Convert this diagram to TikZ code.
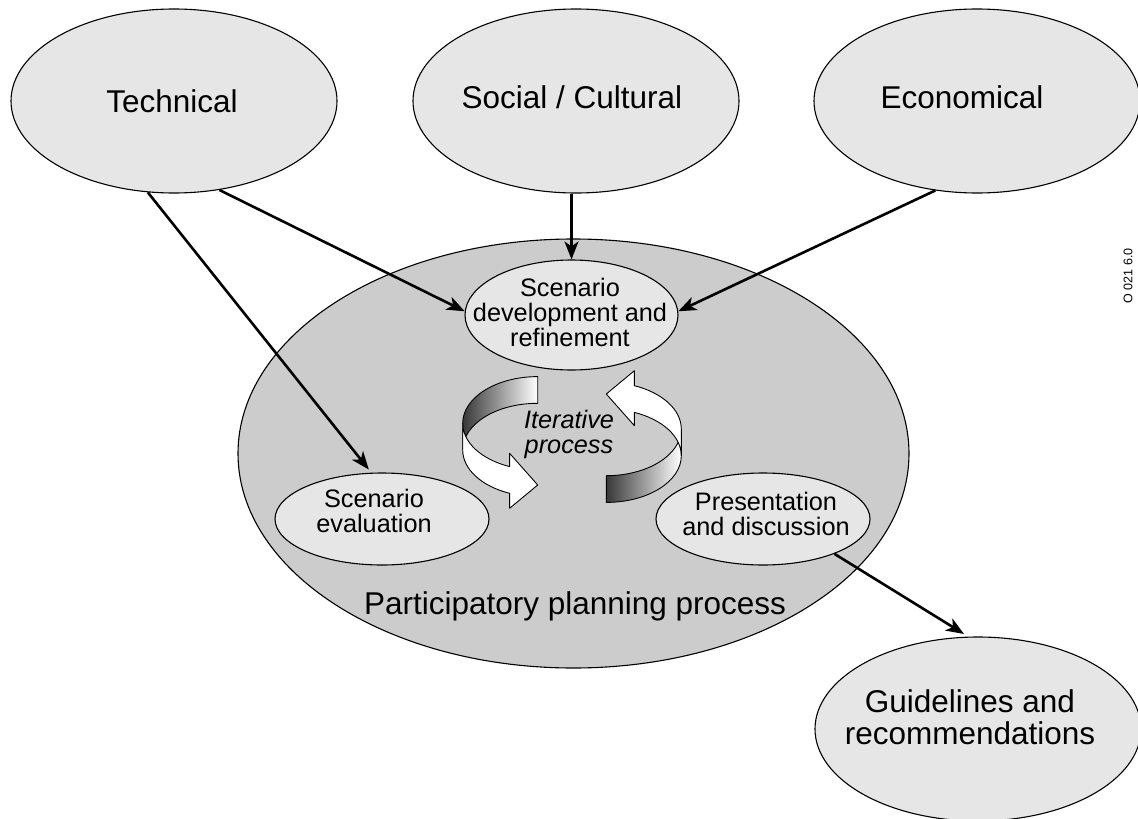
\documentclass[tikz,border=0pt]{standalone}
\usepackage{fontspec}
\setmainfont{Liberation Sans}
\usetikzlibrary{shapes.geometric,arrows.meta}
\definecolor{paleshade}{gray}{0.902}
\definecolor{midshade}{gray}{0.8}

% One curved 3D ribbon arrow: shaded back band, white front band with head
\newcommand\ribbonarrow{%
  \shadedraw[ribbon, left color=black!78, right color=white]
    (537.7,376.6) arc[start angle=90, end angle=180, x radius=75pt, y radius=46.7pt]
    -- (462.7,450) arc[start angle=180, end angle=90, x radius=75pt, y radius=46.7pt]
    -- cycle;
  \filldraw[ribbon, fill=white]
    (462.7,423.3) arc[start angle=180, end angle=248, x radius=75pt, y radius=46.7pt]
    -- (509.6,453.3) -- (537.7,485) -- (509.6,508.3) -- (509.6,493.3)
    arc[start angle=248, end angle=180, x radius=75pt, y radius=46.7pt]
    -- cycle;
}

\begin{document}
\begin{tikzpicture}[x=1pt,y=-1pt,
  oval/.style={ellipse, draw=black, line width=1.1pt, inner sep=0pt},
  topic/.style={oval, fill=paleshade, minimum width=326pt, minimum height=184pt},
  stage/.style={oval, fill=paleshade, minimum width=214pt, minimum height=92pt},
  bigtext/.style={font=\fontsize{31.5}{32}\selectfont, inner sep=0pt, align=center},
  smalltext/.style={font=\fontsize{25.3}{25}\selectfont, inner sep=0pt, align=center},
  flow/.style={line width=2.6pt, -{Stealth[length=18pt,width=14pt,inset=5pt]}},
  ribbon/.style={draw=black, line width=0.9pt, line join=round}
]
\fill[white] (0,0) rectangle (1138,819);
\useasboundingbox (0,0) rectangle (1138,819);

% planning process container
\node[oval, fill=midshade, minimum width=671pt, minimum height=429pt] (ppp) at (573.5,453.5) {};
\node[bigtext, anchor=base] (ppp-t) at (575,614) {Participatory planning process};

% stages of the process
\node[stage, minimum width=213pt, minimum height=110pt] (dev) at (571.5,315) {};
\node[smalltext] (dev-t) at (570,312.9) {Scenario\\development and\\refinement};
\node[stage] (eval) at (382,519) {};
\node[smalltext] (eval-t) at (374,511.3) {Scenario\\evaluation};
\node[stage] (pres) at (763,519) {};
\node[smalltext] (pres-t) at (766,513.6) {Presentation\\and discussion};

% iterative cycle
\ribbonarrow
\begin{scope}[rotate around={180:(572,439.5)}]
  \ribbonarrow
\end{scope}
\node[smalltext, font={\fontsize{25.3}{25}\selectfont\itshape}] (iter-t) at (569,434.2) {Iterative\\process};

% input aspects and output
\node[topic] (tech) at (174,101) {};
\node[bigtext, anchor=base] (tech-t) at (172,112) {Technical};
\node[topic] (soc) at (576,101) {};
\node[bigtext, anchor=base] (soc-t) at (572,108) {Social / Cultural};
\node[topic] (eco) at (977,101) {};
\node[bigtext, anchor=base] (eco-t) at (962,108) {Economical};
\node[topic] (guide) at (978,729) {};
\node[bigtext, font=\fontsize{31.5}{32}\selectfont] (guide-t) at (970,717.6) {Guidelines and\\recommendations};

% connectors
\draw[flow] (tech.-63.7) -- (dev.178.4);
\draw[flow, shorten >=4pt] (tech.-106.4) -- (eval.103.5);
\draw[flow] (soc.south -| dev.north) -- (dev.north);
\draw[flow] (eco.-115.3) -- (dev.2.7);
\draw[flow, shorten >=5pt] (pres.-26.6) -- (guide.96.5);

% drawing code
\node[font=\fontsize{12.5}{14}\selectfont, rotate=90, inner sep=0pt] (code) at (1128,276) {O 021 6.0};
\end{tikzpicture}
\end{document}
